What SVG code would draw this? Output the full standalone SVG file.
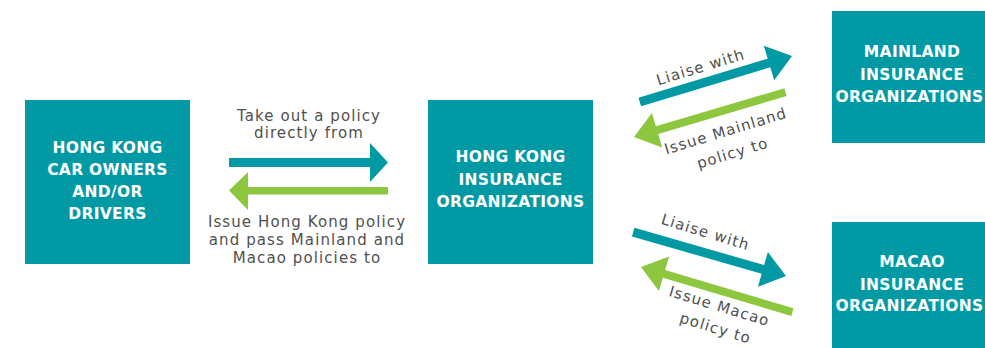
<svg xmlns="http://www.w3.org/2000/svg" width="985" height="348" viewBox="0 0 985 348">
<style>
.box{fill:#0099A4}
.bt{font-family:"DejaVu Sans","Liberation Sans",sans-serif;font-weight:700;font-size:15.5px;fill:#fff;text-anchor:middle;letter-spacing:0.3px}
.lt{font-family:"DejaVu Sans","Liberation Sans",sans-serif;font-weight:400;font-size:15px;fill:#505050;text-anchor:middle;letter-spacing:1.1px}
.teal{fill:#0099A4}
.green{fill:#8DC63F}
</style>
<rect width="985" height="348" fill="#fff"/>
<g id="owners">
<rect class="box" x="25" y="100" width="165" height="164"/>
<text class="bt" x="107.5" y="153">HONG KONG</text>
<text class="bt" x="107.5" y="175">CAR OWNERS</text>
<text class="bt" x="107.5" y="197">AND/OR</text>
<text class="bt" x="107.5" y="219">DRIVERS</text>
</g>
<g id="hk">
<rect class="box" x="428" y="100" width="165" height="164"/>
<text class="bt" x="510.5" y="162">HONG KONG</text>
<text class="bt" x="510.5" y="185">INSURANCE</text>
<text class="bt" x="510.5" y="207">ORGANIZATIONS</text>
</g>
<g id="mainland">
<rect class="box" x="832" y="11" width="165" height="132"/>
<text class="bt" x="912" y="57">MAINLAND</text>
<text class="bt" x="912" y="80">INSURANCE</text>
<text class="bt" x="909.5" y="102">ORGANIZATIONS</text>
</g>
<g id="macao">
<rect class="box" x="832" y="222" width="165" height="132"/>
<text class="bt" x="912" y="267">MACAO</text>
<text class="bt" x="912" y="290">INSURANCE</text>
<text class="bt" x="909.5" y="311">ORGANIZATIONS</text>
</g>
<g id="connectors">
<path class="teal" d="M388,162.5 L370,143 L370,158 L229,158 L229,167 L370,167 L370,182 Z"/>
<path class="green" d="M229,190.5 L248,172 L248,187 L388,187 L388,194.5 L248,194.5 L248,210 Z"/>
<path class="teal" transform="translate(792,56) rotate(-16.8)" d="M0,0 L-24,-18 L-24,-4.5 L-159,-4.5 L-159,4.5 L-24,4.5 L-24,18 Z"/>
<path class="green" transform="translate(634,137) rotate(-16.5)" d="M0,0 L24,-18 L24,-4 L158,-4 L158,4 L24,4 L24,18 Z"/>
<path class="teal" transform="translate(786,276) rotate(16)" d="M0,0 L-24,-18 L-24,-4.5 L-159,-4.5 L-159,4.5 L-24,4.5 L-24,18 Z"/>
<path class="green" transform="translate(641,267) rotate(16.6)" d="M0,0 L24,-18 L24,-4 L158,-4 L158,4 L24,4 L24,18 Z"/>
</g>
<g id="labels">
<text class="lt" x="309" y="121">Take out a policy</text>
<text class="lt" x="309" y="138">directly from</text>
<text class="lt" x="307" y="227">Issue Hong Kong policy</text>
<text class="lt" x="307" y="245">and pass Mainland and</text>
<text class="lt" x="307" y="263">Macao policies to</text>
<text class="lt" transform="translate(702,72) rotate(-17)">Liaise with</text>
<text class="lt" transform="translate(727,136) rotate(-17)">Issue Mainland</text>
<text class="lt" transform="translate(734,158) rotate(-17)">policy to</text>
<text class="lt" transform="translate(704,237) rotate(17)">Liaise with</text>
<text class="lt" transform="translate(718,311) rotate(17)">Issue Macao</text>
<text class="lt" transform="translate(714,333) rotate(17)">policy to</text>
</g>
</svg>
